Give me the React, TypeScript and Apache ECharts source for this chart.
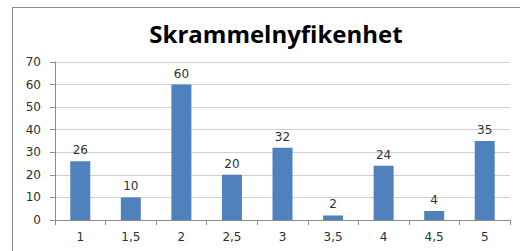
import React, { useEffect, useRef } from "react";
import * as echarts from "echarts";

const categories = ["1", "1,5", "2", "2,5", "3", "3,5", "4", "4,5", "5"];
const values = [26, 10, 60, 20, 32, 2, 24, 4, 35];
const titleText = "Skrammelnyfikenhet";

export default function App() {
  const ref = useRef<HTMLDivElement>(null);
  useEffect(() => {
    const chart = echarts.init(ref.current!, null, { renderer: "svg" });
    chart.setOption({
      animation: false,
      backgroundColor: "#ffffff",
      title: {
        text: titleText,
        left: 271,
        textAlign: "center",
        top: 16,
        textStyle: {
          fontFamily: "Open Sans",
          fontWeight: "bold",
          fontSize: 24,
          color: "#000000",
        },
      },
      graphic: [
        {
          type: "rect",
          shape: { x: 12.5, y: 7.5, width: 520, height: 260 },
          style: { fill: "none", stroke: "#8c8c8c", lineWidth: 1 },
          silent: true,
        },
      ],
      grid: { left: 55, right: 10, top: 62, bottom: 31 },
      xAxis: {
        type: "category",
        data: categories,
        axisLine: { lineStyle: { color: "#8c8c8c" } },
        axisTick: { show: true, length: 5, lineStyle: { color: "#8c8c8c" } },
        axisLabel: {
          margin: 11,
          fontFamily: "DejaVu Sans",
          fontSize: 12,
          color: "#303030",
        },
      },
      yAxis: {
        type: "value",
        min: 0,
        max: 70,
        interval: 10,
        axisLine: { show: true, lineStyle: { color: "#8c8c8c" } },
        axisTick: { show: true, length: 5, lineStyle: { color: "#8c8c8c" } },
        splitLine: { lineStyle: { color: "#d0d0d0" } },
        axisLabel: {
          margin: 14,
          fontFamily: "DejaVu Sans",
          fontSize: 12,
          color: "#303030",
        },
      },
      series: [
        {
          type: "bar",
          data: values,
          barWidth: 20,
          itemStyle: { color: "#4f81bd" },
          label: {
            show: true,
            position: "top",
            distance: 5,
            fontFamily: "DejaVu Sans",
            fontSize: 12,
            color: "#303030",
          },
        },
      ],
    });
    return () => chart.dispose();
  }, []);
  return (
    <div
      ref={ref}
      style={{ position: "fixed", left: 0, top: 0, width: 520, height: 251 }}
    />
  );
}
